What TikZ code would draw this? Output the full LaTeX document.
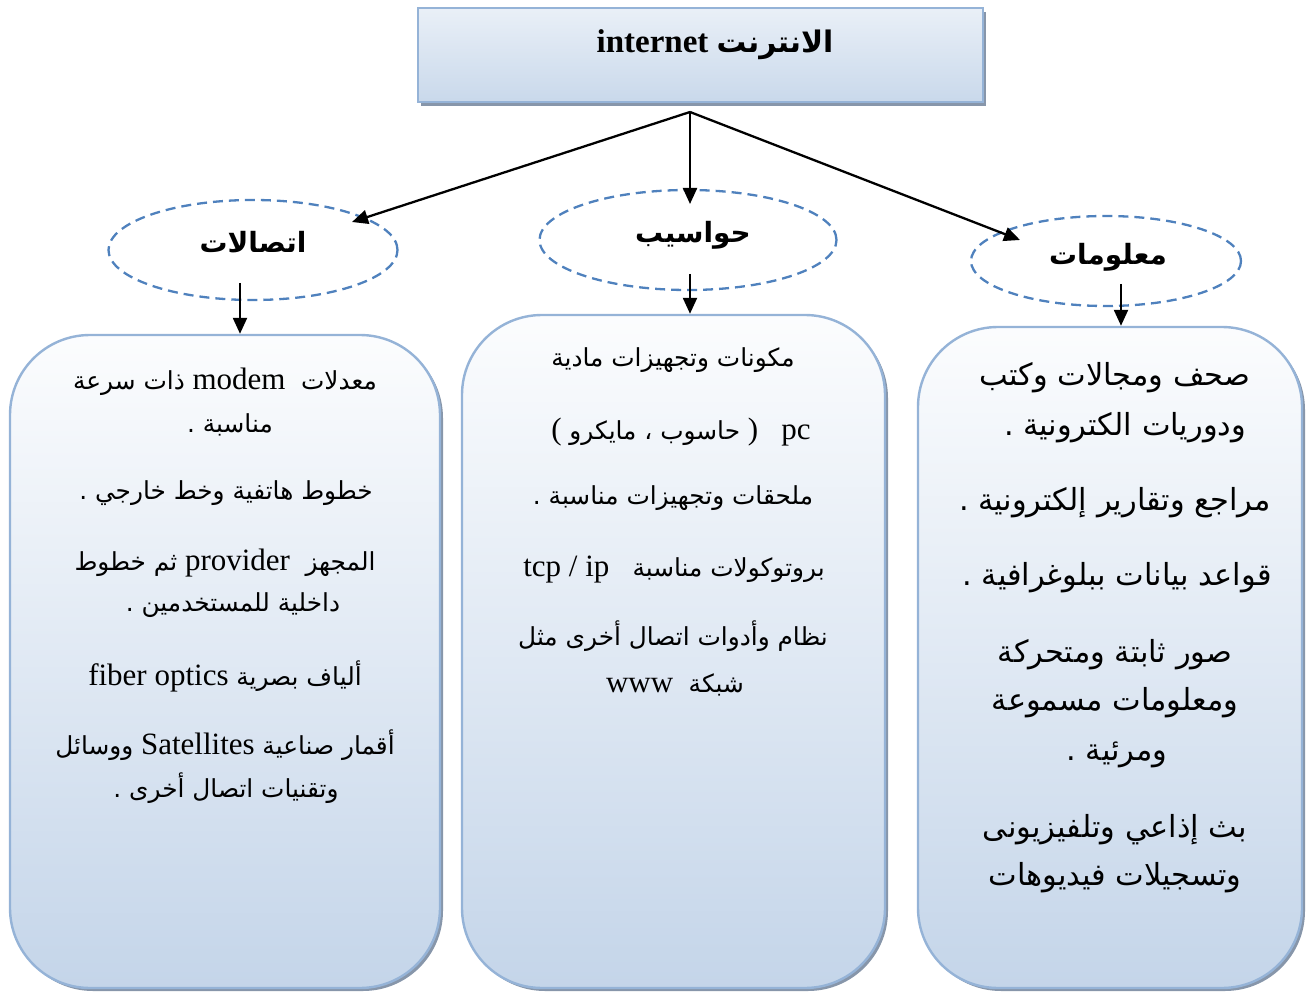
\documentclass[tikz,border=0pt]{standalone}
\usepackage{fontspec}
\setmainfont{Liberation Serif}
\newfontfamily\arfont[Script=Arabic,Scale=0.8]{DejaVu Sans}
\newfontfamily\arbfont[Script=Arabic,Scale=0.9]{DejaVu Sans Bold}
\TeXXeTstate=1
\usetikzlibrary{shapes.geometric,arrows.meta,shadows}
\definecolor{boxblue}{RGB}{185,205,229}
\definecolor{borderblue}{RGB}{149,179,215}
\definecolor{dashblue}{RGB}{79,129,189}
\definecolor{shadowgray}{RGB}{135,150,170}
\newcommand{\AR}[1]{{\arfont\beginR #1\endR}}
\newcommand{\ARB}[1]{{\arbfont\beginR #1\endR}}
\pgfdeclareverticalshading{boxshade}{100bp}{color(0bp)=(boxblue); color(15bp)=(boxblue); color(78bp)=(white); color(100bp)=(white)}
\pgfdeclareverticalshading{topshade}{100bp}{color(0bp)=(boxblue); color(100bp)=(white!92!boxblue)}
\tikzset{
  panel/.style={draw=borderblue, line width=2.4pt, rounded corners=80pt, shading=boxshade, inner sep=0pt,
    drop shadow={shadow xshift=3pt, shadow yshift=-3pt, fill=shadowgray, opacity=1}},
  topbox/.style={draw=borderblue, line width=2.4pt, shading=topshade, inner sep=0pt,
    drop shadow={shadow xshift=3pt, shadow yshift=-4pt, fill=shadowgray, opacity=1}},
  ell/.style={ellipse, draw=dashblue, line width=2.3pt, dash pattern=on 10pt off 6pt, inner sep=0pt},
  lbl/.style={font=\fontsize{31}{34}\selectfont, inner sep=0pt},
  txt/.style={font=\fontsize{31}{35}\selectfont, inner sep=0pt},
  rtxt/.style={font=\fontsize{38}{42}\selectfont, inner sep=0pt},
  arr/.style={line width=2.3pt, -{Triangle[length=16pt,width=14pt]}}
}
\begin{document}
\begin{tikzpicture}[x=1pt,y=-1pt]
\useasboundingbox (0,0) rectangle (1307,992);
% top box
\node[topbox, minimum width=565pt, minimum height=94pt] (top) at (700.5,55) {};
\node[font=\bfseries\fontsize{33}{36}\selectfont, inner sep=0pt] (title) at (715,45) {internet \ARB{الانترنت}};
% ellipses
\node[ell, minimum width=289pt, minimum height=100pt] (e1) at (253,250) {};
\node[ell, minimum width=297pt, minimum height=100pt] (e2) at (688,240) {};
\node[ell, minimum width=270pt, minimum height=90pt] (e3) at (1106,261) {};
\node[lbl] (k1) at (253,242) {\ARB{اتصالات}};
\node[lbl] (k2) at (693,235) {\ARB{حواسيب}};
\node[lbl] (k3) at (1108,257) {\ARB{معلومات}};
% panels
\node[panel, minimum width=430pt, minimum height=653pt] (b1) at (225,661.5) {};
\node[panel, minimum width=423pt, minimum height=673pt] (b2) at (673.5,651.5) {};
\node[panel, minimum width=384pt, minimum height=661pt] (b3) at (1110,657.5) {};
% connectors
\coordinate (o) at (690,112);
\coordinate (t1) at (352,222);
\coordinate (t2) at (690,204);
\coordinate (t3) at (1020,240);
\draw[arr] (o) -- (t1);
\draw[arr] (o) -- (t2);
\draw[arr] (o) -- (t3);
\coordinate (d1) at (240,283);
\coordinate (d2) at (690,274);
\coordinate (d3) at (1121,284);
\draw[arr] (d1) -- (d1 |- b1.north);
\draw[arr] (d2) -- (d2 |- b2.north);
\draw[arr] (d3) -- (d3 |- b3.north);
% left panel text
\node[txt] (L1) at (225,382) {\AR{ذات سرعة}\ modem\ \ \AR{معدلات}};
\node[txt] (L2) at (230,425) {\AR{مناسبة .}};
\node[txt] (L3) at (226,493) {\AR{خطوط هاتفية وخط خارجي .}};
\node[txt] (L4) at (225,563) {\AR{ثم خطوط} provider\ \ \AR{المجهز}};
\node[txt] (L5) at (233,605) {\AR{داخلية للمستخدمين .}};
\node[txt] (L6) at (225,676) {fiber optics \AR{ألياف بصرية}};
\node[txt] (L7) at (225,745) {\AR{ووسائل} Satellites \AR{أقمار صناعية}};
\node[txt] (L8) at (226,788) {\AR{وتقنيات اتصال أخرى .}};
% center panel text
\node[txt] (C1) at (673,360) {\AR{مكونات وتجهيزات مادية}};
\node[txt] (C2) at (681,432) {(\ \AR{حاسوب ، مايكرو}\ )\ \ \ pc};
\node[txt] (C3) at (673,498) {\AR{ملحقات وتجهيزات مناسبة .}};
\node[txt] (C4) at (674,570) {tcp / ip\ \ \ \AR{بروتوكولات مناسبة}};
\node[txt] (C5) at (673,636) {\AR{نظام وأدوات اتصال أخرى مثل}};
\node[txt] (C6) at (675,685) {www\ \ \AR{شبكة}};
% right panel text
\node[rtxt] (R1) at (1115,378) {\AR{صحف ومجالات وكتب}};
\node[rtxt] (R2) at (1125,428) {\AR{ودوريات الكترونية .}};
\node[rtxt] (R3) at (1115,503) {\AR{مراجع وتقارير إلكترونية .}};
\node[rtxt] (R4) at (1117,578) {\AR{قواعد بيانات ببلوغرافية .}};
\node[rtxt] (R5) at (1115,655) {\AR{صور ثابتة ومتحركة}};
\node[rtxt] (R6) at (1115,703) {\AR{ومعلومات مسموعة}};
\node[rtxt] (R7) at (1117,755) {\AR{ومرئية .}};
\node[rtxt] (R8) at (1115,830) {\AR{بث إذاعي وتلفيزيونى}};
\node[rtxt] (R9) at (1115,878) {\AR{وتسجيلات فيديوهات}};
\end{tikzpicture}
\end{document}
